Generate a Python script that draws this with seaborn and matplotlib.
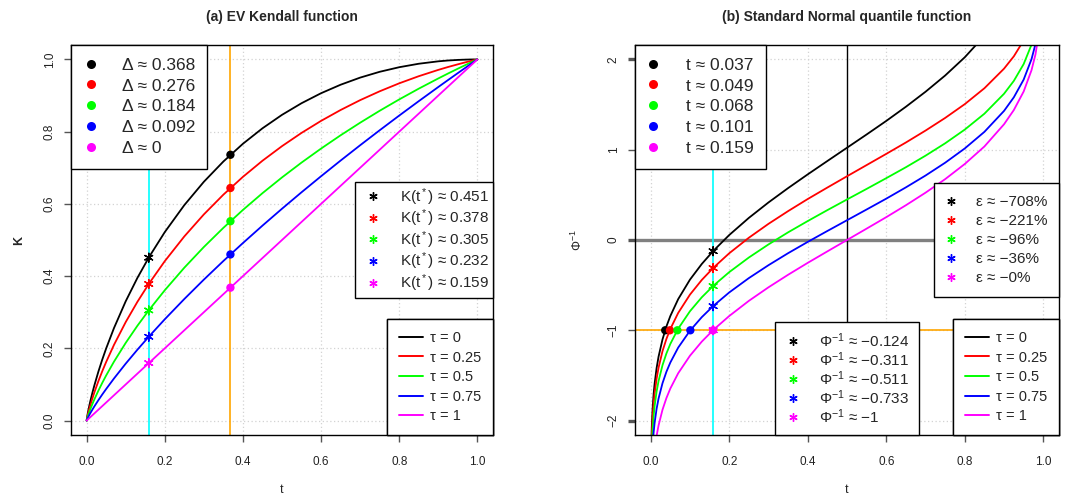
import matplotlib
matplotlib.use("Agg")
import matplotlib.pyplot as plt
from matplotlib.lines import Line2D
import pandas as pd
import seaborn as sns

# ------------------------------------------------------------------ data
tau_labels = ["τ = 0", "τ = 0.25", "τ = 0.5", "τ = 0.75", "τ = 1"]
colors = ["black", "#FF0000", "#00FF00", "#0000FF", "#FF00FF"]

t_K = [0, 0.001, 0.002, 0.003, 0.005, 0.0075, 0.01, 0.015, 0.02, 0.03, 0.04,
       0.05, 0.07, 0.1, 0.13, 0.16, 0.2, 0.25, 0.3, 0.35, 0.4, 0.45, 0.5,
       0.55, 0.6, 0.65, 0.7, 0.75, 0.8, 0.85, 0.9, 0.925, 0.95, 0.97, 0.98,
       0.99, 1]
K_tau_0 = [0, 0.0079, 0.0144, 0.0204, 0.0315, 0.0442, 0.0561, 0.0780, 0.0982,
           0.1352, 0.1688, 0.1998, 0.2561, 0.3303, 0.3952, 0.4532, 0.5219,
           0.5966, 0.6612, 0.7174, 0.7665, 0.8093, 0.8466, 0.8788, 0.9065,
           0.9300, 0.9497, 0.9658, 0.9785, 0.9881, 0.9948, 0.9971, 0.9987,
           0.9995, 0.9998, 1.0000, 1]
K_tau_025 = [0, 0.0062, 0.0113, 0.0161, 0.0249, 0.0350, 0.0445, 0.0622, 0.0787,
             0.1089, 0.1366, 0.1623, 0.2096, 0.2727, 0.3289, 0.3799, 0.4414,
             0.5099, 0.5709, 0.6256, 0.6749, 0.7195, 0.7599, 0.7966, 0.8299,
             0.8600, 0.8873, 0.9118, 0.9339, 0.9536, 0.9711, 0.9791, 0.9865,
             0.9922, 0.9948, 0.9975, 1]
K_tau_05 = [0, 0.0045, 0.0082, 0.0117, 0.0182, 0.0258, 0.0330, 0.0465, 0.0591,
            0.0826, 0.1044, 0.1249, 0.1631, 0.2151, 0.2626, 0.3066, 0.3609,
            0.4233, 0.4806, 0.5337, 0.5833, 0.6297, 0.6733, 0.7144, 0.7532,
            0.7900, 0.8248, 0.8579, 0.8893, 0.9191, 0.9474, 0.9611, 0.9744,
            0.9848, 0.9899, 0.9950, 1]
K_tau_075 = [0, 0.0027, 0.0051, 0.0074, 0.0116, 0.0167, 0.0215, 0.0307, 0.0396,
             0.0563, 0.0722, 0.0874, 0.1165, 0.1576, 0.1963, 0.2333, 0.2805,
             0.3366, 0.3903, 0.4419, 0.4916, 0.5398, 0.5866, 0.6322, 0.6766,
             0.7200, 0.7624, 0.8039, 0.8446, 0.8845, 0.9237, 0.9430, 0.9622,
             0.9774, 0.9850, 0.9925, 1]
K_tau_1 = [0, 0.001, 0.002, 0.003, 0.005, 0.0075, 0.01, 0.015, 0.02, 0.03, 0.04,
           0.05, 0.07, 0.1, 0.13, 0.16, 0.2, 0.25, 0.3, 0.35, 0.4, 0.45, 0.5,
           0.55, 0.6, 0.65, 0.7, 0.75, 0.8, 0.85, 0.9, 0.925, 0.95, 0.97, 0.98,
           0.99, 1]

t_Q = [0.001, 0.002, 0.003, 0.005, 0.0075, 0.01, 0.015, 0.02, 0.03, 0.04,
       0.05, 0.07, 0.1, 0.13, 0.16, 0.2, 0.25, 0.3, 0.35, 0.4, 0.45, 0.5,
       0.55, 0.6, 0.65, 0.7, 0.75, 0.8, 0.85, 0.9, 0.925, 0.95, 0.97, 0.98,
       0.99]
Q_tau_0 = [-2.413, -2.186, -2.045, -1.859, -1.703, -1.590, -1.419, -1.292,
           -1.102, -0.958, -0.842, -0.655, -0.439, -0.266, -0.118, 0.055,
           0.245, 0.416, 0.575, 0.727, 0.875, 1.022, 1.169, 1.319, 1.476,
           1.642, 1.822, 2.024, 2.262, 2.565, 2.76, 3.01, 3.29, 3.54, 3.9]
Q_tau_025 = [-2.501, -2.279, -2.143, -1.962, -1.812, -1.700, -1.536, -1.414,
             -1.232, -1.096, -0.985, -0.808, -0.605, -0.443, -0.306, -0.147,
             0.025, 0.179, 0.320, 0.454, 0.581, 0.706, 0.830, 0.954, 1.080,
             1.212, 1.352, 1.505, 1.681, 1.898, 2.035, 2.211, 2.415, 2.566, 2.80]
Q_tau_05 = [-2.616, -2.399, -2.266, -2.091, -1.946, -1.838, -1.680, -1.562,
            -1.388, -1.257, -1.151, -0.982, -0.789, -0.635, -0.505, -0.356,
            -0.194, -0.049, 0.085, 0.210, 0.331, 0.449, 0.566, 0.685, 0.806,
            0.934, 1.071, 1.223, 1.399, 1.620, 1.763, 1.949, 2.164, 2.323, 2.574]
Q_tau_075 = [-2.779, -2.568, -2.439, -2.269, -2.128, -2.024, -1.870, -1.756,
             -1.587, -1.460, -1.357, -1.192, -1.005, -0.855, -0.728, -0.581,
             -0.422, -0.279, -0.146, -0.021, 0.100, 0.219, 0.338, 0.458, 0.583,
             0.714, 0.856, 1.014, 1.198, 1.430, 1.581, 1.777, 2.003, 2.169, 2.432]
Q_tau_1 = [-3.090, -2.878, -2.748, -2.576, -2.432, -2.326, -2.170, -2.054,
           -1.881, -1.751, -1.645, -1.476, -1.282, -1.126, -0.994, -0.842,
           -0.674, -0.524, -0.385, -0.253, -0.126, 0.000, 0.126, 0.253, 0.385,
           0.524, 0.674, 0.842, 1.036, 1.282, 1.440, 1.645, 1.881, 2.054, 2.326]

t_star = 0.159            # cyan reference line
t_delta = 0.368           # orange reference line (left)
q_ref = -1                # orange reference line (right)
t_mid = 0.5               # black reference line (right)

delta_text = ["0.368", "0.276", "0.184", "0.092", "0"]
K_at_delta = [0.736, 0.644, 0.552, 0.460, 0.368]
K_at_tstar = [0.451, 0.378, 0.305, 0.232, 0.159]
K_text = ["0.451", "0.378", "0.305", "0.232", "0.159"]

t_at_qref = [0.037, 0.049, 0.068, 0.101, 0.159]
t_text = ["0.037", "0.049", "0.068", "0.101", "0.159"]
Q_at_tstar = [-0.124, -0.311, -0.511, -0.733, -1]
Q_text = ["−0.124", "−0.311", "−0.511", "−0.733", "−1"]
eps_text = ["−708%", "−221%", "−96%", "−36%", "−0%"]

# ------------------------------------------------------------------ style
sns.set_style("white")
plt.rcParams["font.family"] = ["Liberation Sans", "DejaVu Sans"]
plt.rcParams["mathtext.fontset"] = "custom"
plt.rcParams["mathtext.rm"] = "Liberation Sans"
plt.rcParams["mathtext.it"] = "Liberation Sans:italic"
plt.rcParams["mathtext.bf"] = "Liberation Sans:bold"
plt.rcParams["mathtext.sf"] = "Liberation Sans"
plt.rcParams["mathtext.fallback"] = "stixsans"
plt.rcParams["axes.unicode_minus"] = True

W, H = 1078, 496
fig = plt.figure(figsize=(W / 100, H / 100), dpi=100)
ax1 = fig.add_axes([71 / W, 1 - 435 / H, (493 - 71) / W, (435 - 45) / H])
ax2 = fig.add_axes([635 / W, 1 - 435 / H, (1059 - 635) / W, (435 - 45) / H])

dfK = pd.DataFrame({
    "t": t_K * 5,
    "K": K_tau_0 + K_tau_025 + K_tau_05 + K_tau_075 + K_tau_1,
    "tau": sum([[lab] * len(t_K) for lab in tau_labels], []),
})
dfQ = pd.DataFrame({
    "t": t_Q * 5,
    "Q": Q_tau_0 + Q_tau_025 + Q_tau_05 + Q_tau_075 + Q_tau_1,
    "tau": sum([[lab] * len(t_Q) for lab in tau_labels], []),
})
pal = dict(zip(tau_labels, colors))

star = (6, 2, 0)
LEG_BASE = dict(frameon=True, fancybox=False, framealpha=1, edgecolor="black",
                borderaxespad=0, numpoints=1)


def make_legend(ax, handles, labels, loc, anchor, fs, bp, hl, tp, ls):
    leg = ax.legend(handles, labels, loc=loc, bbox_to_anchor=anchor,
                    fontsize=fs, borderpad=bp, handlelength=hl,
                    handletextpad=tp, labelspacing=ls, **LEG_BASE)
    leg.get_frame().set_linewidth(1.0)
    leg.set_zorder(10)
    ax.add_artist(leg)
    return leg


def style_axes(ax, yticks, yticklabels, ylim):
    ax.set_xlim(-0.04, 1.04)
    ax.set_ylim(*ylim)
    ax.set_xticks([0, 0.2, 0.4, 0.6, 0.8, 1.0])
    ax.set_xticklabels(["0.0", "0.2", "0.4", "0.6", "0.8", "1.0"])
    ax.set_yticks(yticks)
    ax.set_yticklabels(yticklabels)
    ax.grid(True, linestyle=(0, (1, 2)), color="#d3d3d3", linewidth=0.9)
    ax.set_axisbelow(True)
    for sp in ax.spines.values():
        sp.set_color("black")
        sp.set_linewidth(1.0)
    ax.tick_params(axis="both", direction="out", length=5, width=1,
                   color="#555555", labelsize=8.5, labelcolor="#222222",
                   left=True, bottom=True)
    ax.tick_params(axis="x", pad=10)
    ax.tick_params(axis="y", pad=6)
    for lab in ax.get_yticklabels():
        lab.set_rotation(90)
        lab.set_va("center")
        lab.set_ha("right")


# ------------------------------------------------------------------ left panel
style_axes(ax1, [0, 0.2, 0.4, 0.6, 0.8, 1.0],
           ["0.0", "0.2", "0.4", "0.6", "0.8", "1.0"], (-0.04, 1.04))
sns.lineplot(data=dfK, x="t", y="K", hue="tau", hue_order=tau_labels,
             palette=pal, estimator=None, sort=False, legend=False,
             linewidth=1.3, ax=ax1, zorder=2)
ax1.axvline(t_star, color="#00FFFF", linewidth=1.2, zorder=2.5)
ax1.axvline(t_delta, color="#FFA500", linewidth=1.2, zorder=2.5)
sns.scatterplot(x=[t_delta] * 5, y=K_at_delta, hue=tau_labels,
                palette=pal, marker="o", s=36, edgecolor="none",
                legend=False, ax=ax1, zorder=4)
sns.scatterplot(x=[t_star] * 5, y=K_at_tstar, hue=tau_labels,
                palette=pal, marker=star, s=40, linewidth=1.0,
                legend=False, ax=ax1, zorder=4)

dot_h = [Line2D([], [], ls="none", marker="o", markersize=6.5, color=c,
                markeredgewidth=0) for c in colors]
star_h = [Line2D([], [], ls="none", marker=star, markersize=6, color=c,
                 markeredgewidth=1.0) for c in colors]
line_h = [Line2D([], [], color=c, linewidth=1.4) for c in colors]

make_legend(ax1, dot_h, ["Δ ≈ " + v for v in delta_text], "upper left",
            (0, 1), 12.5, 0.72, 0.85, 1.34, 0.33)
make_legend(ax1, star_h, [r"K($\mathrm{t}^*$) ≈ " + v for v in K_text],
            "center right", (1, 0.5), 11, 0.25, 1.9, 0.82, 0.0)
make_legend(ax1, line_h, tau_labels, "lower right", (1, 0), 10.5,
            0.81, 1.7, 0.45, 0.38)

ax1.set_title("(a) EV Kendall function", fontsize=10, fontweight="bold",
              pad=17)
ax1.set_xlabel("t", fontsize=9)
ax1.set_ylabel("K", fontsize=9, fontweight="bold")
ax1.xaxis.set_label_coords(0.5, -0.125)
ax1.yaxis.set_label_coords(-0.109, 0.5)

# ------------------------------------------------------------------ right panel
style_axes(ax2, [-2, -1, 0, 1, 2], ["−2", "−1", "0", "1", "2"], (-2.16, 2.16))
ax2.axhline(0, color="#808080", linewidth=2.4, zorder=1.5)
ax2.axhline(q_ref, color="#FFA500", linewidth=1.2, zorder=1.6)
ax2.axvline(t_mid, color="black", linewidth=1.0, zorder=1.6)
sns.lineplot(data=dfQ, x="t", y="Q", hue="tau", hue_order=tau_labels,
             palette=pal, estimator=None, sort=False, legend=False,
             linewidth=1.3, ax=ax2, zorder=2)
ax2.axvline(t_star, color="#00FFFF", linewidth=1.2, zorder=2.5)
sns.scatterplot(x=t_at_qref, y=[q_ref] * 5, hue=tau_labels,
                palette=pal, marker="o", s=36, edgecolor="none",
                legend=False, ax=ax2, zorder=4)
sns.scatterplot(x=[t_star] * 5, y=Q_at_tstar, hue=tau_labels,
                palette=pal, marker=star, s=40, linewidth=1.0,
                legend=False, ax=ax2, zorder=4)
for tk in ax2.yaxis.get_major_ticks():
    if tk.get_loc() in (-2, 0, 2):
        tk.tick1line.set_markeredgewidth(2.4)
        tk.tick1line.set_color("#808080")

make_legend(ax2, dot_h, ["t ≈ " + v for v in t_text], "upper left",
            (0, 1), 12.5, 0.72, 0.6, 1.63, 0.33)
make_legend(ax2, star_h, ["ε ≈ " + v for v in eps_text], "center right",
            (1, 0.5), 11, 0.75, 0.72, 1.27, 0.33)
make_legend(ax2, star_h, [r"$\Phi^{-1}$ ≈ " + v for v in Q_text],
            "lower center", (0.5, 0), 11, 0.6, 1.15, 1.12, 0.03)
make_legend(ax2, line_h, tau_labels, "lower right", (1, 0), 10.5,
            0.81, 1.7, 0.45, 0.38)

ax2.set_title("(b) Standard Normal quantile function", fontsize=10,
              fontweight="bold", pad=17)
ax2.set_xlabel("t", fontsize=9)
ax2.set_ylabel(r"$\Phi^{-1}$", fontsize=9)
ax2.xaxis.set_label_coords(0.5, -0.125)
ax2.yaxis.set_label_coords(-0.118, 0.5)

fig.savefig("out.png", dpi=100)
